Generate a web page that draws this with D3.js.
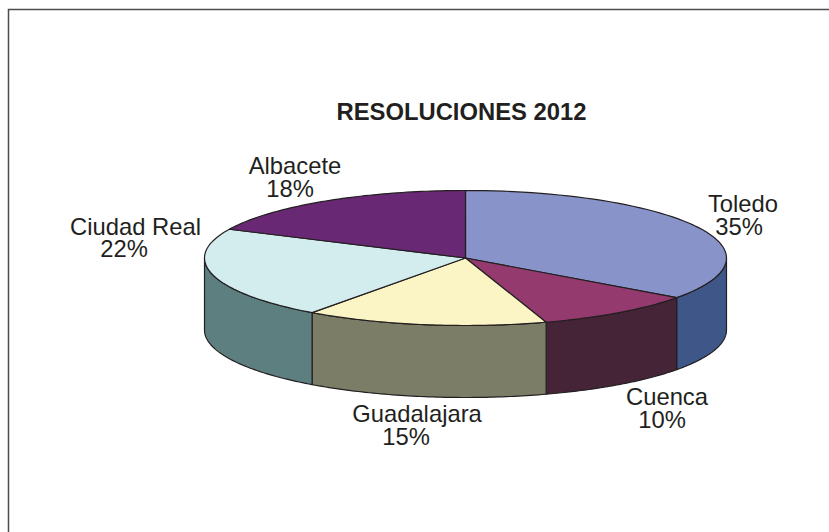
<!DOCTYPE html>
<html><head><meta charset="utf-8">
<script src="https://cdn.jsdelivr.net/npm/d3@7"></script>
<style>html,body{margin:0;padding:0;background:#fff}svg{display:block}text{font-family:"Liberation Sans",Arial,sans-serif;fill:#231f20}</style>
</head><body><svg id="c" width="829" height="532"></svg>
<script>
const categories=["Toledo","Cuenca","Guadalajara","Ciudad Real","Albacete"];
const values=[35,10,15,22,18];
const topColors=["#8793c9","#953a6f","#fbf4c4","#d3edef","#682873"];
const sideColors=["#3f5689","#452437","#7c7d66","#5e7f80","#682873"];
const labelX=[743,667,417,135.5,295];
const percentX=[739,662,406,124,290];
const labelY=[212,405,422,235,174];
const percentY=[235,428,445,257,197];
const svg=d3.select("#c");
const cx=465.5,cy=258,rx=261,ry=67.5,depth=72;
svg.append("path").attr("d","M8.5,532V9.5H829").attr("fill","none").attr("stroke","#4d4d4f").attr("stroke-width",1.5);
svg.append("text").attr("x",461.5).attr("y",120).attr("text-anchor","middle").attr("font-weight","bold").attr("font-size",23.8).text("RESOLUCIONES 2012");
const pie=d3.pie().sort(null).value(d=>d)(values);
const px=d3.scaleLinear().domain([-1,1]).range([cx-rx,cx+rx]);
const py=d3.scaleLinear().domain([-1,1]).range([cy+ry,cy-ry]);
const line=d3.line().x(d=>d[0]).y(d=>d[1]);
const rim=(a0,a1,dy=0)=>d3.range(0,61).map(i=>{const a=a0+(a1-a0)*i/60;return [px(Math.sin(a)),py(Math.cos(a))+dy];});
pie.forEach((p,i)=>{
  const a0=Math.max(p.startAngle,Math.PI/2),a1=Math.min(p.endAngle,3*Math.PI/2);
  if(a1<=a0)return;
  const pts=rim(a0,a1).concat(rim(a0,a1,depth).reverse());
  svg.append("path").attr("d",line(pts)+"Z").attr("fill",sideColors[i]).attr("stroke","#231f20").attr("stroke-width",1.2).attr("stroke-linejoin","round");
});
pie.forEach((p,i)=>{
  const pts=[[px(0),py(0)]].concat(rim(p.startAngle,p.endAngle));
  svg.append("path").attr("d",line(pts)+"Z").attr("fill",topColors[i]).attr("stroke","#231f20").attr("stroke-width",1.2).attr("stroke-linejoin","round");
});
categories.forEach((c,i)=>{
  const t=svg.append("text").attr("text-anchor","middle").attr("font-size",23.8);
  t.append("tspan").attr("x",labelX[i]).attr("y",labelY[i]).text(c);
  t.append("tspan").attr("x",percentX[i]).attr("y",percentY[i]).text(values[i]+"%");
});
</script></body></html>
